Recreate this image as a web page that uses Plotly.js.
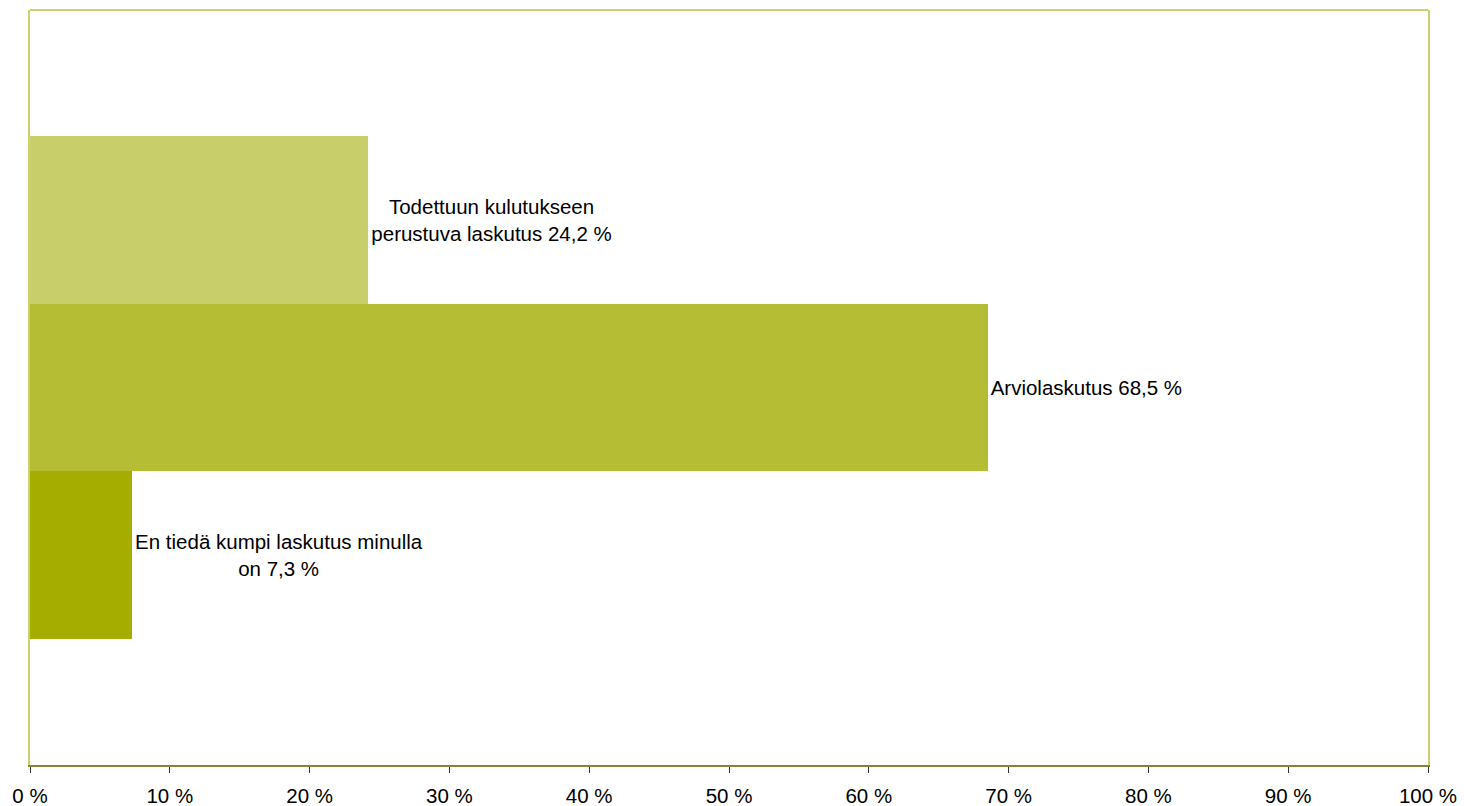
<!DOCTYPE html>
<html>
<head>
<meta charset="utf-8">
<script src="https://cdn.plot.ly/plotly-3.0.1.min.js"></script>
<style>
  html, body { margin: 0; padding: 0; background: #ffffff; }
  #chart { width: 1464px; height: 806px; }
</style>
</head>
<body>
<div id="chart"></div>
<script>
// Data
const categories = [
  "Todettuun kulutukseen<br>perustuva laskutus",
  "Arviolaskutus",
  "En tiedä kumpi laskutus minulla<br>on"
];
const values = [24.2, 68.5, 7.3];
const barColors = ["#C8CE69", "#B5BD35", "#A5AE00"];
const tickValues = [0, 10, 20, 30, 40, 50, 60, 70, 80, 90, 100];
const tickLabels = ["0 %", "10 %", "20 %", "30 %", "40 %", "50 %", "60 %", "70 %", "80 %", "90 %", "100 %"];

const fmt = v => v.toFixed(1).replace(".", ",") + " %";
const labels = categories.map((c, i) => c + " " + fmt(values[i]));
const positions = categories.map((c, i) => i);

const FONT = "Liberation Sans, Arial, sans-serif";

const trace = {
  type: "bar",
  orientation: "h",
  x: values,
  y: positions,
  width: 1,
  marker: { color: barColors, line: { width: 0 } },
  text: labels,
  textposition: "outside",
  constraintext: "none",
  cliponaxis: false,
  textfont: { family: FONT, size: 20.5, color: "#000000" },
  hoverinfo: "x+y"
};

const layout = {
  width: 1464,
  height: 806,
  margin: { l: 30, r: 36, t: 10, b: 41, pad: 0 },
  paper_bgcolor: "#ffffff",
  plot_bgcolor: "#ffffff",
  showlegend: false,
  bargap: 0,
  font: { family: FONT, size: 20.5, color: "#000000" },
  xaxis: {
    range: [0, 100],
    tickvals: tickValues,
    ticktext: tickLabels,
    ticks: "outside",
    ticklen: 6,
    tickwidth: 1,
    tickcolor: "#333333",
    ticklabelstandoff: 5,
    showgrid: false,
    zeroline: false,
    showline: true,
    linecolor: "#85853A",
    linewidth: 2,
    tickfont: { family: FONT, size: 20.5, color: "#000000" },
    fixedrange: true
  },
  yaxis: {
    range: [3.25, -1.25],
    showticklabels: false,
    ticks: "",
    showgrid: false,
    zeroline: false,
    showline: true,
    mirror: true,
    linecolor: "#CBD26C",
    linewidth: 2,
    fixedrange: true
  },
  shapes: [{
    type: "line", xref: "paper", yref: "paper",
    x0: 0, x1: 1, y0: 1, y1: 1,
    line: { color: "#CBD26C", width: 2 }
  }]
};

Plotly.newPlot("chart", [trace], layout, { displayModeBar: false, staticPlot: true });
</script>
</body>
</html>
